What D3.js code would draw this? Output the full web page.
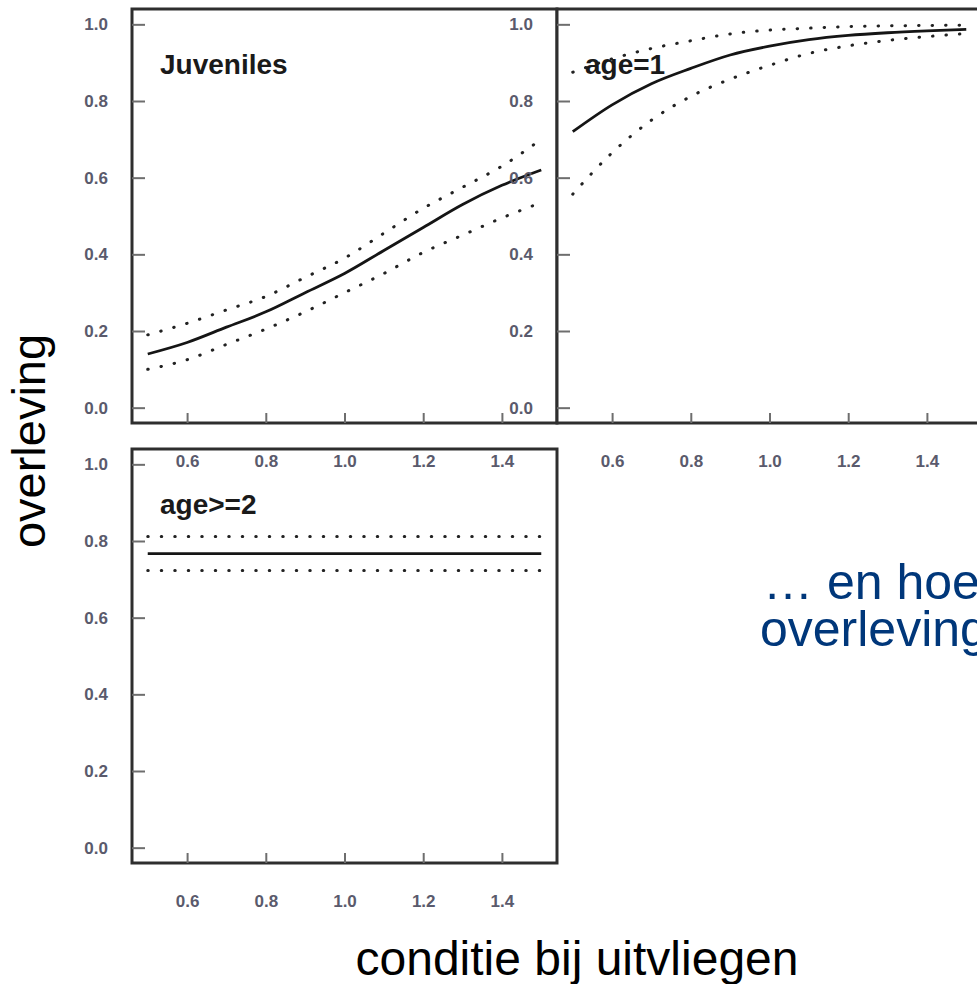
<!DOCTYPE html>
<html>
    <head>
        <meta charset="utf-8">
        <title>overleving</title>
        <style>
            body { margin: 0; background: #fff; }
            svg { display: block; }
            text { font-family: "Liberation Sans", Arial, sans-serif; }
            .tick text { font-size: 17px; font-weight: bold; fill: #5a5a6c; }
            .tick line { stroke: #6e6e6e; stroke-width: 2; }
            .panel-label { font-size: 28px; font-weight: bold; fill: #1a1a1a; }
            .frame { fill: #fff; stroke: #2e2e2e; stroke-width: 3; }
            .fit { fill: none; stroke: #151515; stroke-width: 2.8; }
            .ci { fill: none; stroke: #222; stroke-width: 3; stroke-dasharray: 0.5,13; stroke-linecap: round; }
        </style>
    </head>
    <body>
        <svg width="977" height="984"></svg>

        <script src="https://d3js.org/d3.v7.min.js"></script>
        <script>

            // conditie bij uitvliegen
            var condition = [0.5, 0.6, 0.7, 0.8, 0.9, 1.0, 1.1, 1.2, 1.3, 1.4, 1.5];

            // Juveniles
            var juvFit   = [0.14, 0.17, 0.21, 0.25, 0.30, 0.35, 0.41, 0.47, 0.53, 0.58, 0.62];
            var juvUpper = [0.19, 0.22, 0.255, 0.29, 0.34, 0.39, 0.455, 0.52, 0.575, 0.63, 0.70];
            var juvLower = [0.10, 0.125, 0.165, 0.205, 0.25, 0.30, 0.35, 0.405, 0.45, 0.495, 0.535];

            // age=1
            var age1Fit   = [0.72, 0.79, 0.845, 0.885, 0.92, 0.943, 0.96, 0.971, 0.978, 0.983, 0.987];
            var age1Upper = [0.875, 0.91, 0.937, 0.957, 0.975, 0.985, 0.99, 0.994, 0.996, 0.997, 0.998];
            var age1Lower = [0.557, 0.665, 0.75, 0.812, 0.857, 0.893, 0.924, 0.944, 0.958, 0.968, 0.976];

            // age>=2
            var age2Fit   = [0.767, 0.767, 0.767, 0.767, 0.767, 0.767, 0.767, 0.767, 0.767, 0.767, 0.767];
            var age2Upper = [0.812, 0.812, 0.812, 0.812, 0.812, 0.812, 0.812, 0.812, 0.812, 0.812, 0.812];
            var age2Lower = [0.723, 0.723, 0.723, 0.723, 0.723, 0.723, 0.723, 0.723, 0.723, 0.723, 0.723];

            var xTicks = [0.6, 0.8, 1.0, 1.2, 1.4];
            var yTicks = [0.0, 0.2, 0.4, 0.6, 0.8, 1.0];

            var svg = d3.select("svg");
            var fmt = d3.format(".1f");

            var panels = [
                { label: "Juveniles", left: 132, top: 9,   fit: juvFit,  upper: juvUpper,  lower: juvLower },
                { label: "age=1",     left: 557, top: 9,   fit: age1Fit, upper: age1Upper, lower: age1Lower },
                { label: "age>=2",    left: 132, top: 449, fit: age2Fit, upper: age2Upper, lower: age2Lower }
            ];
            var pw = 425, ph = 414;

            panels.forEach(function(p) {
                p.x = d3.scaleLinear().domain([0.46, 1.54]).range([p.left, p.left + pw]);
                p.y = d3.scaleLinear().domain([-0.04, 1.04]).range([p.top + ph, p.top]);
            });

            // frames first, so that axis labels of one panel can sit on top of the next
            svg.selectAll("rect.frame")
                .data(panels)
                .enter()
                .append("rect")
                .attr("class", "frame")
                .attr("x", function(d) { return d.left; })
                .attr("y", function(d) { return d.top; })
                .attr("width", pw)
                .attr("height", ph);

            panels.forEach(function(p) {
                var g = svg.append("g");

                var line = d3.line()
                    .x(function(d, i) { return p.x(condition[i]); })
                    .y(function(d) { return p.y(d); })
                    .curve(d3.curveMonotoneX);

                g.append("path").attr("class", "ci").attr("d", line(p.upper));
                g.append("path").attr("class", "ci").attr("d", line(p.lower));
                g.append("path").attr("class", "fit").attr("d", line(p.fit));

                g.append("text")
                    .attr("class", "panel-label")
                    .attr("x", p.left + 28)
                    .attr("y", p.top + 65)
                    .text(p.label);
            });

            // axes on top of everything
            panels.forEach(function(p) {
                var ax = svg.append("g")
                    .attr("transform", "translate(0," + (p.top + ph) + ")")
                    .call(d3.axisBottom(p.x).tickValues(xTicks).tickFormat(fmt).tickSize(-10).tickPadding(32));
                ax.select(".domain").remove();

                var ay = svg.append("g")
                    .attr("transform", "translate(" + p.left + ",0)")
                    .call(d3.axisLeft(p.y).tickValues(yTicks).tickFormat(fmt).tickSize(-13).tickPadding(24));
                ay.select(".domain").remove();
            });

            svg.selectAll(".tick text").attr("font-family", null).attr("font-size", null);
            svg.selectAll(".tick line").attr("stroke", null);

            // axis titles
            svg.append("text")
                .attr("transform", "translate(45,441) rotate(-90)")
                .attr("text-anchor", "middle")
                .style("font-size", "47px")
                .style("fill", "#000")
                .text("overleving");

            svg.append("text")
                .attr("x", 577)
                .attr("y", 975)
                .attr("text-anchor", "middle")
                .style("font-size", "48px")
                .style("fill", "#000")
                .text("conditie bij uitvliegen");

            // slide text on the right
            var note = svg.append("text")
                .style("font-size", "50px")
                .style("fill", "#00377a");
            note.append("tspan").attr("x", 763).attr("y", 599).text("\u2026 en hoe");
            note.append("tspan").attr("x", 760).attr("y", 646).text("overleving");

        </script>
    </body>
</html>
